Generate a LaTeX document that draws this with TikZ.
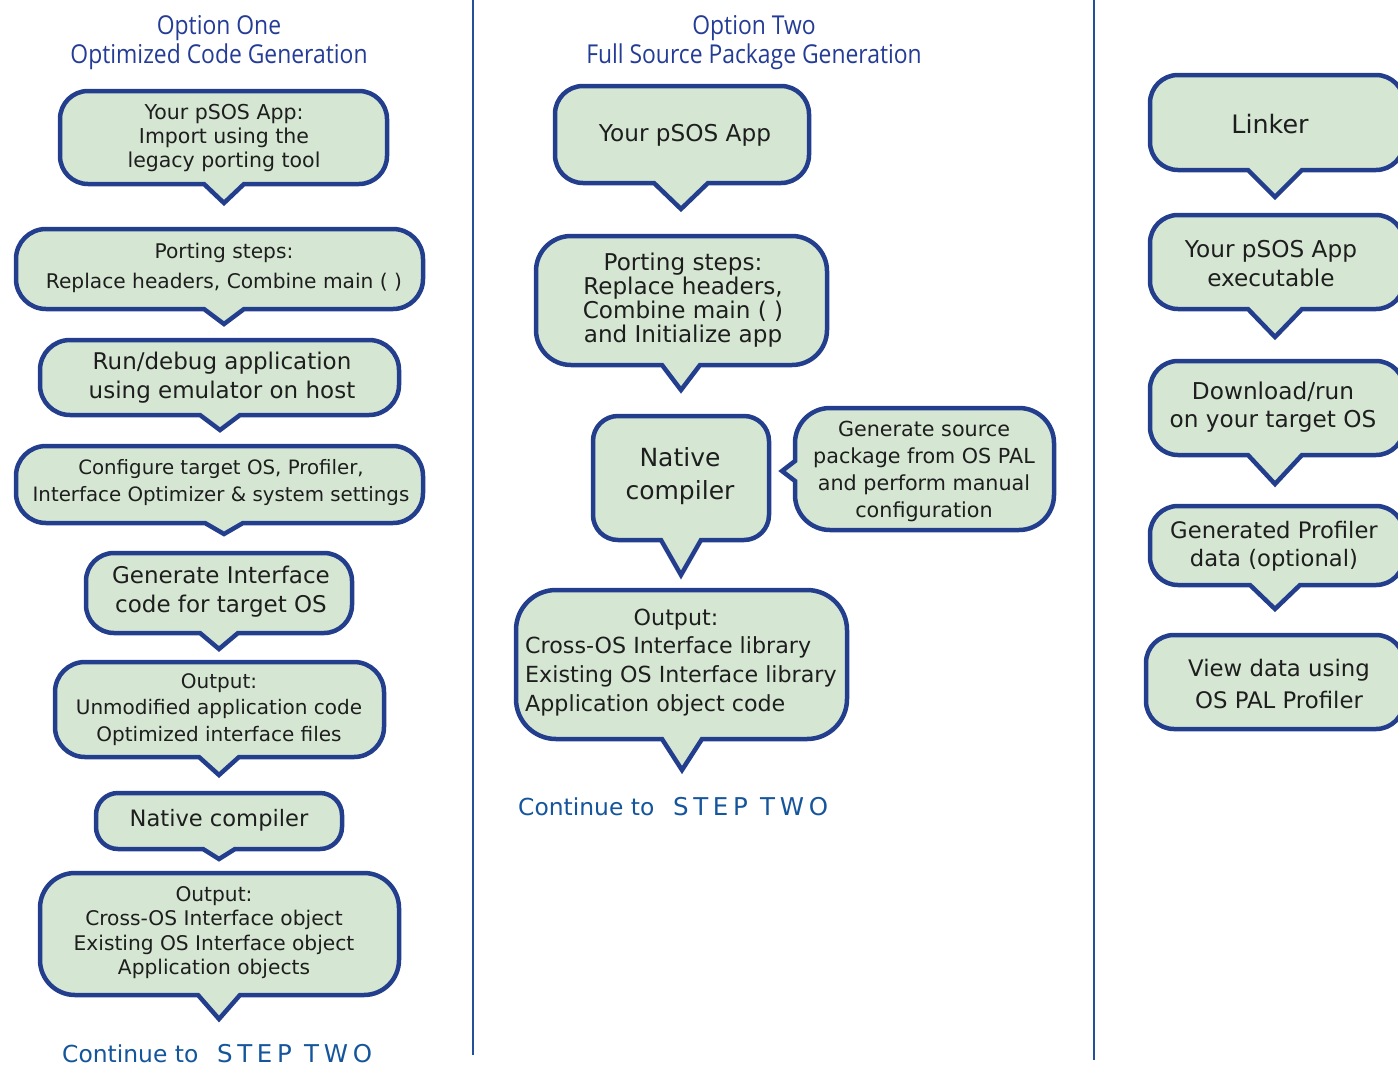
\documentclass[tikz,border=0pt]{standalone}
\usepackage{fontspec}
\setmainfont{DejaVu Sans}
\newfontfamily\headfont[FakeStretch=0.88]{Open Sans}
\newfontfamily\stepfont[LetterSpace=19]{DejaVu Sans}
\definecolor{cfill}{RGB}{213,231,211}
\definecolor{cborder}{RGB}{36,62,142}
\definecolor{ctext}{RGB}{30,30,30}
\definecolor{chead}{RGB}{36,60,150}
\definecolor{ccont}{RGB}{20,85,155}
\definecolor{cline}{RGB}{35,80,155}
\newcommand\fs[2]{\fontsize{#1}{#2}\selectfont}
% callout: x1 y1 x2 y2 tipx tipy halfbase radius
\newcommand\callout[8]{%
  \pgfmathsetmacro\ck{0.4477*#8}%
  \draw[cbox] ({#1+#8},#2) -- ({#3-#8},#2)
    .. controls ({#3-\ck},#2) and (#3,{#2+\ck}) .. (#3,{#2+#8})
    -- (#3,{#4-#8})
    .. controls (#3,{#4-\ck}) and ({#3-\ck},#4) .. ({#3-#8},#4)
    -- ({#5+#7},#4) -- (#5,#6) -- ({#5-#7},#4) -- ({#1+#8},#4)
    .. controls ({#1+\ck},#4) and (#1,{#4-\ck}) .. (#1,{#4-#8})
    -- (#1,{#2+#8})
    .. controls (#1,{#2+\ck}) and ({#1+\ck},#2) .. ({#1+#8},#2) -- cycle;}
\tikzset{
  cbox/.style={draw=cborder, fill=cfill, line width=4.5pt, line join=miter},
  txt/.style={text=ctext, align=center, inner sep=0pt},
  head/.style={text=chead, align=center, inner sep=0pt, font=\headfont\fs{26}{29}},
  cont/.style={text=ccont, anchor=west, inner sep=0pt, font=\fs{23.4}{28}},
  sep/.style={draw=cline, line width=2.5pt}
}
\begin{document}
\begin{tikzpicture}[x=1pt,y=-1pt]
\useasboundingbox (0,0) rectangle (1398,1066);
\clip (0,0) rectangle (1398,1066);

% separators
\coordinate (s1a) at (473,0); \coordinate (s1b) at (473,1055);
\coordinate (s2a) at (1094,0); \coordinate (s2b) at (1094,1060);
\draw[sep] (s1a) -- (s1b);
\draw[sep] (s2a) -- (s2b);

% headers
\node[head] (h1a) at (219,28) {Option One};
\node[head] (h1b) at (219,57) {Optimized Code Generation};
\node[head] (h2a) at (754,28) {Option Two};
\node[head] (h2b) at (754,57) {Full Source Package Generation};

% ---------- left column ----------
\callout{60}{91}{387}{184}{224}{203}{20}{28}
\node[txt, font=\fs{20.5}{24}] (l1) at (224,138.5) {Your pSOS App:\\Import using the\\legacy porting tool};

\callout{16}{229}{423}{309}{224}{324}{20}{30}
\node[txt, font=\fs{20.2}{30}] (l2) at (224,267.5) {Porting steps:\\Replace headers, Combine main ( )};

\callout{40}{340}{399}{415}{220}{430}{20}{30}
\node[txt, font=\fs{23}{29}] (l3) at (222,377.5) {Run/debug application\\using emulator on host};

\callout{16}{446}{423}{523}{224}{534}{19}{30}
\node[txt, font=\fs{19.8}{27}] (l4) at (221,482.5) {Configure target OS, Profiler,\\Interface Optimizer \& system settings};

\callout{86}{553}{352}{633}{219}{649}{19}{28}
\node[txt, font=\fs{23}{29}] (l5) at (221,591.5) {Generate Interface\\code for target OS};

\callout{55}{662}{384}{757}{219}{775}{20}{30}
\node[txt, font=\fs{20}{26.5}] (l6) at (219,709.5) {Output:\\Unmodified application code\\Optimized interface files};

\callout{96}{793}{342}{849}{219}{859}{16}{22}
\node[txt, font=\fs{22.6}{27}] (l7) at (219,820) {Native compiler};

\callout{40}{873}{399}{995}{219}{1019}{21}{35}
\node[txt, font=\fs{20.2}{24.3}] (l8) at (214,932.5) {Output:\\Cross-OS Interface object\\Existing OS Interface object\\Application objects};

\node[cont] (c1) at (62,1054) {Continue to\hspace{0.8em}{\stepfont\fontsize{24.5}{28}\selectfont STEP TWO}};

% ---------- middle column ----------
\callout{555}{86}{809}{183}{681}{209}{27}{28}
\node[txt, font=\fs{23.2}{28}] (m1) at (685,135.5) {Your pSOS App};

\callout{536}{236}{827}{365}{681}{390}{19}{35}
\node[txt, font=\fs{23.1}{24}] (m2) at (683,300.5) {Porting steps:\\Replace headers,\\Combine main ( )\\and Initialize app};

\callout{593}{416}{769}{540}{681}{575}{20}{25}
\node[txt, font=\fs{25}{33}] (m3) at (680,476.5) {Native\\compiler};

% box with pointer to the left
\pgfmathsetmacro\rk{0.4477*35}
\draw[cbox] (830,408) -- (1019,408)
  .. controls ({1054-\rk},408) and (1054,{408+\rk}) .. (1054,443)
  -- (1054,495)
  .. controls (1054,{530-\rk}) and ({1054-\rk},530) .. (1019,530)
  -- (830,530)
  .. controls ({795+\rk},530) and (795,{530-\rk}) .. (795,495)
  -- (795,481) -- (782,471) -- (795,461) -- (795,443)
  .. controls (795,{408+\rk}) and ({795+\rk},408) .. (830,408) -- cycle;
\node[txt, font=\fs{20.7}{26.7}] (m4) at (924,471.5) {Generate source\\package from OS PAL\\and perform manual\\configuration};

\callout{516}{590}{847}{739}{682}{770}{20}{40}
\node[txt, font=\fs{22.2}{28.7}] (m5a) at (676,619.5) {Output:};
\node[txt, align=left, anchor=west, font=\fs{22.2}{28.7}] (m5b) at (525,676.5) {Cross-OS Interface library\\Existing OS Interface library\\Application object code};

\node[cont] (c2) at (518,807) {Continue to\hspace{0.8em}{\stepfont\fontsize{24.5}{28}\selectfont STEP TWO}};

% ---------- right column ----------
\callout{1150}{75}{1404}{170}{1275}{197}{27}{28}
\node[txt, font=\fs{25.4}{30}] (r1) at (1270,124.5) {Linker};

\callout{1150}{215}{1404}{309}{1275}{337}{27}{28}
\node[txt, font=\fs{23.2}{29}] (r2) at (1271,263.5) {Your pSOS App\\executable};

\callout{1150}{361}{1404}{455}{1275}{484}{27}{28}
\node[txt, font=\fs{23.2}{28}] (r3) at (1273,407.5) {Download/run\\on your target OS};

\callout{1150}{506}{1404}{585}{1275}{609}{25}{28}
\node[txt, font=\fs{22.7}{28}] (r4) at (1274,546.5) {Generated Profiler\\data (optional)};

\draw[cbox, rounded corners=28] (1146,635) rectangle (1404,729);
\node[txt, font=\fs{22.8}{32}] (r5) at (1279,683.5) {View data using\\OS PAL Profiler};
\end{tikzpicture}
\end{document}
